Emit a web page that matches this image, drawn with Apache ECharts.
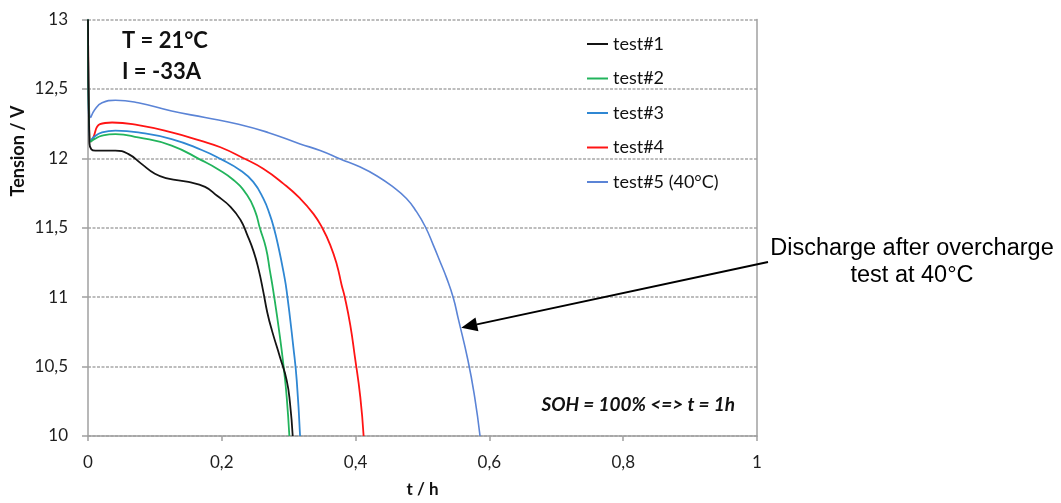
<!DOCTYPE html>
<html>
<head>
<meta charset="utf-8">
<script src="https://cdn.jsdelivr.net/npm/echarts@6/dist/echarts.min.js"></script>
<style>
  html, body { margin: 0; padding: 0; background: #fff; }
  #chart { width: 1061px; height: 503px; }
</style>
</head>
<body>
<div id="chart"></div>
<script>
// tick values of both axes
var xTicks = [0, 0.2, 0.4, 0.6, 0.8, 1];
var yTicks = [10, 10.5, 11, 11.5, 12, 12.5, 13];

var seriesNames = ['test#1', 'test#2', 'test#3', 'test#4', 'test#5 (40°C)'];
var seriesColors = ['#141414', '#22b45c', '#2f87d3', '#ff1414', '#5b84d6'];

// [t (h), tension (V)]
var test1 = [[0, 13], [0.002, 12.12], [0.005, 12.065], [0.011, 12.056], [0.041, 12.056], [0.06, 12.032],
  [0.08, 11.96], [0.10, 11.889], [0.12, 11.854], [0.15, 11.83], [0.175, 11.794], [0.193, 11.73],
  [0.213, 11.651], [0.228, 11.556], [0.238, 11.449], [0.2475, 11.33], [0.255, 11.2], [0.262, 11.04],
  [0.268, 10.89], [0.275, 10.759], [0.287, 10.568], [0.297, 10.401], [0.302, 10.234], [0.306, 10.0]];
var test2 = [[0, 13], [0.004, 12.12], [0.01, 12.14], [0.021, 12.163], [0.041, 12.175], [0.075, 12.151],
  [0.125, 12.092], [0.17, 11.985], [0.193, 11.925], [0.218, 11.842], [0.238, 11.734], [0.25, 11.616],
  [0.257, 11.496], [0.266, 11.354], [0.272, 11.187], [0.277, 11.044], [0.287, 10.711], [0.293, 10.473],
  [0.297, 10.282], [0.301, 10.0]];
var test3 = [[0, 13], [0.003, 12.12], [0.008, 12.15], [0.021, 12.187], [0.041, 12.199], [0.075, 12.187],
  [0.125, 12.139], [0.17, 12.06], [0.198, 11.996], [0.228, 11.913], [0.247, 11.83], [0.262, 11.711],
  [0.272, 11.591], [0.278, 11.496], [0.285, 11.354], [0.292, 11.187], [0.297, 11.044], [0.307, 10.639],
  [0.312, 10.401], [0.317, 10.0]];
var test4 = [[0, 13], [0.004, 12.12], [0.007, 12.14], [0.018, 12.246], [0.036, 12.258], [0.075, 12.239],
  [0.125, 12.187], [0.168, 12.127], [0.198, 12.08], [0.2325, 12.001], [0.262, 11.925], [0.292, 11.818],
  [0.317, 11.711], [0.337, 11.6], [0.35, 11.5], [0.362, 11.377], [0.372, 11.234], [0.379, 11.09],
  [0.384, 10.996], [0.392, 10.8], [0.399, 10.568], [0.407, 10.282], [0.412, 10.0]];
var test5 = [[0, 13], [0.004, 12.294], [0.01, 12.35], [0.021, 12.40], [0.041, 12.418], [0.075, 12.40],
  [0.125, 12.341], [0.175, 12.294], [0.225, 12.246], [0.27, 12.185], [0.317, 12.104], [0.347, 12.056],
  [0.377, 11.996], [0.407, 11.937], [0.432, 11.873], [0.456, 11.794], [0.476, 11.711], [0.491, 11.616],
  [0.504, 11.509], [0.516, 11.377], [0.526, 11.259], [0.536, 11.139], [0.546, 10.996], [0.553, 10.854],
  [0.568, 10.544], [0.578, 10.28], [0.586, 10.0]];
var allTests = [test1, test2, test3, test4, test5];

// point of test#5 the arrow points to
var arrowTip = [0.558, 10.78];

function comma(v) {
  return String(Math.round(v * 10) / 10).replace('.', ',');
}

var font = 'Lato, "Open Sans", sans-serif';
var myChart = echarts.init(document.getElementById('chart'));

var series = [];
for (var i = 0; i < allTests.length; i++) {
  series.push({
    name: seriesNames[i],
    type: 'line',
    data: allTests[i],
    showSymbol: false,
    symbol: 'none',
    smooth: 0.5,
    lineStyle: { color: seriesColors[i], width: i == 4 ? 1.6 : 1.8 },
    itemStyle: { color: seriesColors[i] },
    z: 10 - i
  });
}

var option = {
  animation: false,
  backgroundColor: '#ffffff',
  grid: { left: 88, right: 304, top: 19.5, bottom: 64.5 },
  legend: {
    orient: 'vertical',
    left: 582,
    top: 29,
    icon: 'rect',
    itemWidth: 21,
    itemHeight: 2,
    itemGap: 14.5,
    textStyle: { fontFamily: font, fontSize: 18, color: '#111', lineHeight: 20 },
    data: seriesNames
  },
  xAxis: {
    type: 'value',
    min: 0, max: 1, interval: 0.2,
    name: 't / h',
    nameLocation: 'middle',
    nameGap: 45,
    nameTextStyle: { fontFamily: font, fontSize: 17, fontWeight: 'bold', color: '#111' },
    axisLine: { show: true, lineStyle: { color: '#a0a0a0', width: 1.5 } },
    axisTick: { show: true, length: 5, lineStyle: { color: '#a0a0a0', width: 1.5 } },
    axisLabel: { formatter: comma, margin: 18, fontFamily: font, fontSize: 17, color: '#1e1e1e' },
    splitLine: { show: false }
  },
  yAxis: [{
    type: 'value',
    min: 10, max: 13, interval: 0.5,
    axisLine: { show: true, lineStyle: { color: '#a0a0a0', width: 1.5 } },
    axisTick: { show: true, length: 6, lineStyle: { color: '#a0a0a0', width: 1.5 } },
    axisLabel: { formatter: comma, margin: 20, fontFamily: font, fontSize: 17, color: '#1e1e1e' },
    splitLine: { show: true, lineStyle: { color: '#a8a8a8', width: 1.5, type: [3, 1.5] } }
  }, {
    // right frame line
    type: 'value',
    position: 'right',
    min: 10, max: 13, interval: 0.5,
    axisLine: { show: true, lineStyle: { color: '#a0a0a0', width: 1.5 } },
    axisTick: { show: false },
    axisLabel: { show: false },
    splitLine: { show: false }
  }],
  series: series,
  graphic: [
    { type: 'text', x: 18, y: 151, rotation: Math.PI / 2,
      style: { text: 'Tension / V', fontFamily: font, fontSize: 18, fontWeight: 'bold', fill: '#111',
        align: 'center', verticalAlign: 'middle' } },
    { type: 'text', x: 122, y: 41,
      style: { text: 'T = 21°C', fontFamily: font, fontSize: 22, fontWeight: 'bold', fill: '#111', verticalAlign: 'middle' } },
    { type: 'text', x: 122, y: 72,
      style: { text: 'I = -33A', fontFamily: font, fontSize: 22, fontWeight: 'bold', fill: '#111', verticalAlign: 'middle' } },
    { type: 'text', x: 735, y: 405,
      style: { text: 'SOH = 100% <=> t = 1h', fontFamily: font, fontSize: 19, fontWeight: 'bold', fontStyle: 'italic',
        fill: '#111', align: 'right', verticalAlign: 'middle' } },
    { type: 'text', x: 912, y: 262,
      style: { text: 'Discharge after overcharge\ntest at 40°C', fontFamily: '"Liberation Sans", Arial, sans-serif',
        fontSize: 23.5, lineHeight: 27, fill: '#000', align: 'center', verticalAlign: 'middle' } }
  ]
};
myChart.setOption(option);

// arrow from the note to the test#5 curve
var tip = myChart.convertToPixel({ gridIndex: 0 }, arrowTip);
var tail = [768, 262];
var ang = Math.atan2(tip[1] - tail[1], tip[0] - tail[0]);
var headLen = 16, headW = 7;
var bx = tip[0] - headLen * Math.cos(ang), by = tip[1] - headLen * Math.sin(ang);
var px = -Math.sin(ang) * headW, py = Math.cos(ang) * headW;
myChart.setOption({
  graphic: option.graphic.concat([
    { type: 'line', shape: { x1: tail[0], y1: tail[1], x2: bx, y2: by },
      style: { stroke: '#000', lineWidth: 2 }, z: 20 },
    { type: 'polygon', shape: { points: [tip, [bx + px, by + py], [bx - px, by - py]] },
      style: { fill: '#000' }, z: 20 }
  ])
});
</script>
</body>
</html>
